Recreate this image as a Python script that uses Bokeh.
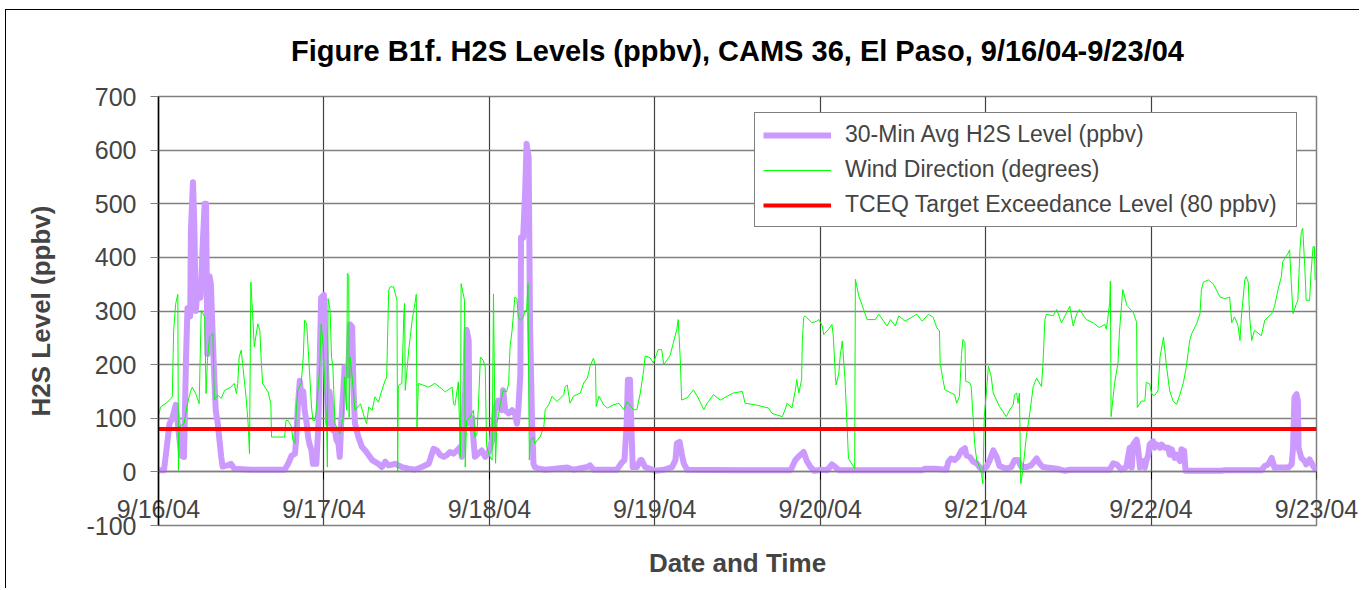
from bokeh.plotting import figure
from bokeh.models import (Range1d, LinearAxis, FixedTicker, Legend, LegendItem, Grid)
from bokeh.embed import file_html
from bokeh.resources import INLINE

# ---------------- data (hours since 9/16/04 00:00) ----------------
day_hours = [0, 24, 48, 72, 96, 120, 144, 168]
day_labels = ["9/16/04", "9/17/04", "9/18/04", "9/19/04", "9/20/04",
              "9/21/04", "9/22/04", "9/23/04"]
y_ticks = [-100, 0, 100, 200, 300, 400, 500, 600, 700]
target_level = 80

h2s_hours = [0, 0.8, 1.6, 2.0, 2.5, 2.8, 3.3, 3.7, 4.0, 4.2, 4.6, 4.7, 5.0, 5.2, 5.4, 5.7,
             6.1, 6.4, 6.7, 6.9, 7.1, 7.4, 7.6, 7.8, 8.1, 8.3, 8.6, 8.8, 9.1, 9.3, 10.0,
             10.5, 11.0, 13.4, 18.3, 18.8, 19.3, 19.8, 20.0, 20.2, 20.5, 20.7, 21.0, 21.2,
             21.5, 21.7, 21.9, 22.2, 22.4, 22.9, 23.2, 23.4, 23.6, 24.0, 24.1, 24.4, 24.6,
             24.8, 25.1, 25.3, 25.6, 25.8, 26.1, 26.3, 26.5, 26.8, 27.0, 27.5, 27.8, 28.1,
             28.3, 28.5, 29.0, 29.5, 30.0, 31.0, 31.9, 32.4, 32.9, 33.4, 34.3, 35.3, 36.3,
             37.2, 38.2, 39.2, 39.9, 40.4, 40.9, 41.4, 41.8, 42.3, 42.8, 43.3, 43.8, 44.0,
             44.2, 44.5, 44.7, 45.0, 45.1, 45.5, 45.7, 45.9, 46.4, 46.9, 47.4, 47.9, 48.4,
             48.8, 49.3, 49.8, 50.0, 50.3, 50.8, 51.3, 51.7, 52.0, 52.2, 52.5, 52.6, 52.9,
             53.2, 53.4, 53.7, 53.9, 54.2, 54.4, 54.6, 55.1, 56.1, 59.3, 60.2, 62.2, 62.6,
             63.1, 66.5, 67.2, 67.6, 67.9, 68.1, 68.4, 68.6, 68.8, 69.4, 69.9, 70.1, 70.6,
             72.1, 73.3, 74.5, 75.0, 75.2, 75.6, 75.9, 76.2, 76.7, 84.4, 91.7, 92.4, 92.9,
             93.6, 94.1, 94.6, 95.1, 96.3, 97.0, 97.7, 98.2, 98.7, 110.8, 111.2, 112.7,
             114.3, 114.6, 115.0, 115.5, 116.0, 116.5, 117.0, 117.2, 117.7, 118.2, 118.7,
             119.1, 119.6, 120.1, 120.6, 121.1, 121.6, 122.0, 123.0, 123.7, 124.2, 124.7,
             125.2, 125.9, 126.6, 127.4, 127.8, 128.3, 130.3, 131.5, 132.2, 138.0, 138.5,
             139.0, 139.7, 140.4, 140.9, 141.2, 141.4, 141.9, 142.1, 142.4, 142.9, 143.1,
             143.3, 143.6, 143.8, 144.3, 144.5, 144.8, 145.3, 145.5, 146.0, 146.5, 146.7,
             147.0, 147.4, 147.7, 148.2, 148.4, 148.8, 149.0, 154.2, 154.7, 160.0, 160.5,
             161.0, 161.5, 161.9, 163.9, 164.4, 164.6, 164.8, 165.1, 165.3, 165.4, 165.8,
             166.3, 166.5, 167.0, 167.5, 168.0]
h2s_ppbv = [3, 3, 90, 100, 125, 90, 30, 28, 215, 305, 290, 450, 540, 460, 300, 340,
            325, 420, 500, 500, 220, 365, 350, 275, 175, 115, 90, 65, 28, 10, 12,
            15, 6, 4, 4, 15, 30, 34, 65, 120, 170, 145, 150, 115,
            90, 65, 52, 40, 15, 15, 90, 215, 325, 330, 275, 165, 90,
            150, 120, 78, 78, 60, 53, 28, 90, 152, 195, 180, 275, 270,
            150, 90, 65, 47, 40, 22, 15, 9, 19, 12, 15, 9, 6,
            4, 9, 15, 43, 40, 31, 28, 31, 37, 34, 40, 47, 28,
            90, 152, 265, 245, 90, 100, 59, 28, 34, 40, 28, 37, 59,
            115, 133, 115, 152, 115, 109, 115, 109, 90, 115, 183, 437, 437,
            525, 612, 587, 275, 90, 15, 9, 6, 4, 8, 4, 9, 12,
            4, 4, 17, 22, 84, 172, 172, 84, 9, 9, 22, 22, 9,
            2, 4, 9, 22, 53, 56, 34, 16, 4, 3, 3, 22, 29,
            37, 19, 9, 2, 4, 3, 14, 9, 3, 3, 6, 6,
            4, 19, 25, 22, 28, 40, 44, 31, 28, 19, 16,
            9, 3, 9, 22, 40, 28, 11, 6, 9, 22, 22,
            9, 9, 12, 25, 16, 9, 6, 2, 4, 4, 16,
            14, 4, 9, 45, 8, 51, 60, 45, 8, 20, 8,
            20, 32, 51, 57, 45, 51, 45, 51, 45, 45, 32,
            42, 26, 32, 20, 42, 39, 2, 2, 3, 3, 11,
            14, 26, 8, 8, 14, 45, 139, 145, 132, 45, 26,
            20, 14, 23, 11, 2]

wind_hours = [0, 0.3, 1.3, 1.8, 2.0, 2.2, 2.5, 2.8, 2.9, 3.0, 3.7, 4.2, 4.7, 4.9, 5.4, 5.9,
              6.2, 6.7, 6.9, 7.1, 7.4, 7.9, 8.1, 8.6, 9.1, 9.6, 10.5, 11.0, 11.3, 11.5, 11.7,
              12.0, 12.2, 12.7, 13.0, 13.2, 13.4, 13.7, 13.9, 14.4, 14.7, 14.9, 15.1, 15.9,
              16.3, 16.4, 17.3, 18.3, 18.5, 18.8, 19.3, 19.5, 19.8, 20.0, 20.2, 20.7, 21.0,
              21.2, 21.5, 21.7, 22.2, 22.4, 22.7, 22.9, 23.4, 23.6, 23.9, 24.1, 24.4, 24.5,
              24.6, 24.9, 25.1, 25.3, 25.6, 26.3, 26.8, 27.0, 27.3, 27.4, 27.6, 27.65, 27.8,
              28.1, 28.5, 29.3, 30.0, 30.2, 30.5, 31.0, 31.4, 31.9, 32.4, 32.9, 33.1, 33.4,
              33.6, 34.1, 34.6, 34.7, 34.8, 35.3, 35.6, 35.7, 35.8, 36.3, 36.8, 37.2, 37.4,
              37.5, 37.7, 39.2, 40.1, 41.1, 41.6, 42.6, 42.8, 43.0, 43.5, 43.8, 43.9, 44.4,
              44.5, 44.7, 45.2, 45.7, 45.9, 46.2, 46.4, 46.7, 47.1, 47.4, 47.6, 48.1, 48.4,
              48.6, 48.7, 48.9, 49.1, 49.6, 50.0, 50.5, 50.8, 51.0, 51.3, 51.7, 52.0, 52.2,
              52.5, 52.9, 53.2, 53.4, 53.6, 53.8, 53.9, 54.4, 54.6, 55.4, 55.9, 56.1, 56.6,
              57.1, 57.8, 58.8, 59.0, 59.3, 59.7, 60.2, 61.2, 61.7, 62.2, 62.4, 62.6, 63.1,
              63.4, 63.5, 63.9, 64.6, 65.1, 66.0, 66.8, 67.5, 68.0, 68.9, 69.4, 69.9, 70.4,
              70.6, 71.3, 71.8, 72.5, 73.0, 73.3, 73.8, 74.2, 74.7, 75.2, 75.4, 75.7, 75.9,
              76.7, 77.6, 78.3, 79.1, 79.6, 80.5, 81.5, 82.5, 83.4, 84.7, 85.1, 86.6, 88.5,
              89.0, 90.5, 90.9, 91.2, 91.9, 92.4, 92.6, 92.9, 93.3, 93.4, 93.6, 93.8, 94.8,
              95.5, 95.8, 96.3, 96.5, 97.2, 97.7, 97.9, 98.2, 98.3, 98.7, 98.9, 99.2, 99.6,
              99.9, 100.1, 101.0, 101.1, 101.6, 102.3, 102.8, 104.0, 104.5, 105.7, 106.2,
              106.9, 107.4, 108.3, 110.0, 110.8, 111.7, 112.4, 112.9, 113.3, 113.4, 113.8,
              114.1, 115.0, 115.5, 115.8, 116.2, 116.5, 116.7, 117.0, 117.1, 117.7, 117.9,
              118.2, 118.4, 118.7, 119.1, 119.4, 119.6, 119.8, 120.1, 120.4, 120.8, 121.1,
              122.0, 123.0, 123.5, 124.0, 124.2, 124.5, 124.7, 124.9, 125.1, 125.4, 125.9,
              126.4, 126.9, 127.4, 128.1, 128.3, 128.6, 128.8, 129.8, 130.3, 131.0, 132.0,
              132.2, 132.7, 133.2, 133.6, 134.6, 135.6, 136.5, 137.3, 137.5, 137.7, 138.0,
              138.1, 138.2, 138.7, 139.2, 139.4, 139.7, 139.9, 140.5, 141.4, 141.9, 142.0,
              142.6, 143.1, 143.3, 143.8, 144.1, 144.5, 145.0, 145.3, 145.8, 146.2, 146.7,
              147.2, 147.7, 148.2, 148.7, 149.1, 149.6, 149.9, 150.6, 151.1, 151.3, 151.6,
              152.3, 153.0, 153.5, 154.0, 154.7, 155.4, 155.7, 156.1, 156.6, 156.9, 157.1,
              157.6, 157.8, 158.1, 158.3, 158.6, 159.0, 160.0, 160.5, 161.5, 161.9, 162.4,
              162.9, 163.1, 163.9, 164.1, 164.4, 164.6, 165.1, 165.3, 165.6, 165.8, 166.0,
              166.3, 166.5, 167.0, 167.2, 167.5, 167.7, 167.8]
wind_deg = [105, 121, 130, 137, 140, 264, 314, 331, 3, 84, 90, 127, 152, 158, 146, 127,
            301, 289, 146, 208, 252, 258, 134, 143, 137, 152, 158, 165, 146, 165, 214,
            227, 202, 140, 90, 34, 354, 283, 233, 276, 264, 208, 165, 149,
            127, 65, 65, 65, 96, 96, 84, 59, 53, 115, 152, 165, 214,
            283, 276, 233, 121, 96, 96, 115, 196, 276, 233, 171, 84, 9,
            323, 301, 214, 196, 90, 71, 102, 177, 115, 370, 366, 102, 214,
            177, 115, 127, 96, 90, 121, 115, 140, 130, 152, 171, 177, 339,
            345, 345, 320, 0, 161, 165, 295, 314, 152, 227, 283, 314, 331,
            84, 165, 158, 165, 155, 149, 158, 127, 124, 168, 28, 351, 320,
            9, 96, 102, 115, 65, 71, 121, 214, 208, 196, 47, 28, 22,
            332, 214, 16, 90, 127, 152, 149, 165, 233, 264, 326, 323, 288,
            283, 288, 301, 301, 351, 22, 59, 65, 53, 66, 84, 116, 125,
            141, 131, 144, 159, 162, 128, 141, 147, 166, 175, 184, 197, 212,
            197, 122, 141, 125, 119, 125, 128, 116, 131, 116, 116, 147, 191,
            216, 213, 203, 228, 228, 200, 209, 216, 241, 266, 284, 209, 134,
            138, 153, 138, 116, 128, 144, 134, 141, 147, 150, 128, 125, 119,
            109, 103, 116, 128, 119, 153, 172, 147, 172, 241, 288, 291, 278,
            281, 284, 272, 256, 266, 275, 253, 178, 162, 184, 216, 244, 172,
            84, 25, 6, 359, 328, 303, 284, 284, 294, 272, 284,
            272, 291, 281, 294, 281, 294, 288, 269, 263, 203, 172,
            153, 147, 144, 128, 141, 219, 247, 241, 169, 166, 159,
            97, 53, 22, 9, -3, -22, 103, 147, 197, 178, 147,
            122, 103, 116, 125, 144, 147, 128, 147, -22, 3, 66,
            109, 159, 175, 159, 197, 284, 294, 291, 303, 278, 303,
            309, 272, 294, 303, 284, 278, 269, 275, 266, 284, 316,
            356, 103, 165, 203, 259, 309, 340, 310, 298, 279, 120,
            132, 132, 167, 164, 145, 142, 151, 214, 251, 201, 151,
            132, 126, 145, 167, 195, 245, 258, 276, 295, 339, 354,
            358, 351, 339, 326, 323, 326, 278, 289, 273, 245, 289,
            358, 364, 354, 289, 245, 264, 254, 283, 295, 308, 339,
            364, 392, 408, 414, 339, 295, 314, 320, 414, 448, 454,
            383, 320, 320, 370, 420, 420, 358]

series_names = ["30-Min Avg H2S Level (ppbv)", "Wind Direction (degrees)",
                "TCEQ Target Exceedance Level (80 ppbv)"]
title_text = "Figure B1f. H2S Levels (ppbv), CAMS 36, El Paso, 9/16/04-9/23/04"
x_title = "Date and Time"
y_title = "H2S Level (ppbv)"

FONT = "Liberation Sans"

p = figure(width=1354, height=579, output_backend="svg", toolbar_location=None,
           x_range=Range1d(day_hours[0], day_hours[-1]),
           y_range=Range1d(y_ticks[0], y_ticks[-1]),
           x_axis_type=None, y_axis_type=None, title=None,
           min_border_left=152, min_border_right=44, min_border_top=86,
           min_border_bottom=64)
# outer chart border (left and top edges visible in the reference)
p.styles = {"margin-left": "5px", "margin-top": "9px",
            "border-left": "1.5px solid black", "border-top": "1.5px solid black"}
p.background_fill_color = "white"
p.border_fill_color = "white"
p.outline_line_color = "#808080"
p.outline_line_width = 1.5

# chart title, drawn as the label of a bare axis above the frame
top = LinearAxis(ticker=FixedTicker(ticks=[]))
top.axis_line_color = None
top.major_tick_out = 0
top.major_tick_in = 0
top.minor_tick_out = 0
top.minor_tick_in = 0
top.axis_label = title_text
top.axis_label_text_font = FONT
top.axis_label_text_font_size = "29px"
top.axis_label_text_font_style = "bold"
top.axis_label_text_color = "black"
top.axis_label_standoff = 30
p.add_layout(top, "above")

# y axis
yaxis = LinearAxis(ticker=FixedTicker(ticks=y_ticks))
yaxis.major_label_overrides = {t: str(t) for t in y_ticks}
yaxis.axis_label = y_title
yaxis.axis_label_text_font = FONT
yaxis.axis_label_text_font_size = "26px"
yaxis.axis_label_text_font_style = "bold"
yaxis.axis_label_standoff = 27
yaxis.major_label_text_font = FONT
yaxis.major_label_text_font_size = "25px"
yaxis.major_label_standoff = 14
yaxis.major_tick_out = 8
yaxis.major_tick_in = 0
yaxis.minor_tick_out = 0
yaxis.minor_tick_in = 0
yaxis.axis_line_color = "black"
yaxis.axis_line_width = 1.5
yaxis.major_tick_line_color = "#808080"
p.add_layout(yaxis, "left")

# x axis line + ticks fixed at y = 0
xaxis = LinearAxis(ticker=FixedTicker(ticks=day_hours), fixed_location=0)
xaxis.major_label_text_color = None
xaxis.major_tick_out = 8
xaxis.major_tick_in = 0
xaxis.minor_tick_out = 0
xaxis.minor_tick_in = 0
xaxis.axis_line_color = "#808080"
xaxis.axis_line_width = 1.5
xaxis.major_tick_line_color = "black"
p.add_layout(xaxis, "below")

# x tick labels (drawn from the bottom axis, lifted above it) + axis title
xlab = LinearAxis(ticker=FixedTicker(ticks=day_hours))
xlab.major_label_overrides = {h: lab for h, lab in zip(day_hours, day_labels)}
xlab.major_label_text_font = FONT
xlab.major_label_text_font_size = "25px"
xlab.major_label_standoff = -31
xlab.major_tick_out = 0
xlab.major_tick_in = 0
xlab.minor_tick_out = 0
xlab.minor_tick_in = 0
xlab.axis_line_color = None
xlab.axis_label = x_title
xlab.axis_label_text_font = FONT
xlab.axis_label_text_font_size = "26px"
xlab.axis_label_text_font_style = "bold"
xlab.axis_label_standoff = 22
p.add_layout(xlab, "below")

# grids
p.add_layout(Grid(dimension=0, ticker=FixedTicker(ticks=day_hours),
                  grid_line_color="#404040", grid_line_width=1.2))
p.add_layout(Grid(dimension=1, ticker=FixedTicker(ticks=y_ticks),
                  grid_line_color="#808080", grid_line_width=1.5))

# series
r_h2s = p.line(h2s_hours, h2s_ppbv, line_color="#CC99FF", line_width=6,
               line_join="round")
r_wind = p.line(wind_hours, wind_deg, line_color="#00FF00", line_width=1)
r_target = p.line([day_hours[0], day_hours[-1]], [target_level, target_level],
                  line_color="#FF0000", line_width=4)

legend = Legend(items=[LegendItem(label=series_names[0], renderers=[r_h2s]),
                       LegendItem(label=series_names[1], renderers=[r_wind]),
                       LegendItem(label=series_names[2], renderers=[r_target])],
                location=(596, 298))
legend.label_text_font = FONT
legend.label_text_font_size = "23px"
legend.label_height = 24
legend.glyph_height = 24
legend.glyph_width = 68
legend.label_standoff = 14
legend.label_width = 443
legend.spacing = 8
legend.padding = 8
legend.margin = 0
legend.border_line_color = "black"
legend.border_line_width = 1
legend.background_fill_color = "white"
legend.background_fill_alpha = 1
p.add_layout(legend, "center")

open("out.html", "w").write(file_html(p, INLINE))
